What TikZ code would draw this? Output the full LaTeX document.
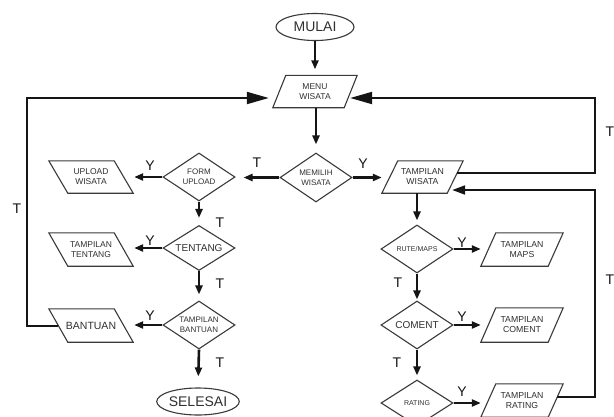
\documentclass[tikz,border=0pt]{standalone}
\usepackage{fontspec}
\setmainfont{Liberation Sans}
\usetikzlibrary{shapes.geometric,arrows.meta,calc}
\newcommand\myfs[2]{\fontsize{#1}{#2}\selectfont}
\definecolor{outc}{HTML}{3A3A3A}
\definecolor{txtc}{HTML}{303030}
\definecolor{linec}{HTML}{151515}
\tikzset{
  outl/.style={draw=outc, line width=1.1pt, line join=miter},
  pbox/.style={rectangle, inner sep=0pt, align=center, text=txtc},
  dia/.style={diamond, draw=outc, line width=1.1pt, aspect=1.5, inner sep=0pt, align=center, text=txtc},
  term/.style={ellipse, draw=outc, line width=1.1pt, inner sep=0pt, text=txtc, font=\myfs{14}{16}},
  lbl/.style={inner sep=0pt, text=linec, font=\myfs{14}{16}},
  arr/.style={draw=linec, line width=2.6pt, -{Triangle[length=9pt,width=7pt]}},
  bus/.style={draw=linec, line width=2pt},
  bigtip/.style={-{Triangle[length=22pt,width=12pt]}},
  midtip/.style={-{Triangle[length=13pt,width=9pt]}}
}
\newcommand\paraR[7][]{\node[pbox,minimum width=#4,minimum height=#5,#1] (#2) at #3 {#7};
  \draw[outl] ([xshift=#6]#2.north west) -- (#2.north east) -- ([xshift=-#6]#2.south east) -- (#2.south west) -- cycle;}
\newcommand\paraL[7][]{\node[pbox,minimum width=#4,minimum height=#5,#1] (#2) at #3 {#7};
  \draw[outl] (#2.north west) -- ([xshift=-#6]#2.north east) -- (#2.south east) -- ([xshift=#6]#2.south west) -- cycle;}
\begin{document}
\begin{tikzpicture}[x=1pt,y=-1pt]
\fill[white] (0,0) rectangle (614,416);
\useasboundingbox (0,0) rectangle (614,416);

% main column
\node[term, minimum width=78pt, minimum height=27pt] (mulai) at (315,27) {MULAI};
\paraR[font=\myfs{8.5}{10.7}]{menu}{(315,91.5)}{84pt}{32pt}{13pt}{MENU\\WISATA}
\node[dia, minimum width=72pt, minimum height=49pt, font=\myfs{8}{10}] (mem) at (316,177.5) {MEMILIH\\WISATA};

% left column
\node[dia, minimum width=72pt, minimum height=48pt, font=\myfs{8}{10}] (form) at (199,177) {FORM\\UPLOAD};
\paraL[font=\myfs{8.5}{10}]{upl}{(91,177)}{84pt}{32pt}{19pt}{UPLOAD\\WISATA}
\node[dia, minimum width=72pt, minimum height=45pt, font=\myfs{10}{12}] (tent) at (199,248) {TENTANG};
\paraL[font=\myfs{8.5}{10}]{ttent}{(91,249.5)}{84pt}{33pt}{19pt}{TAMPILAN\\TENTANG}
\node[dia, minimum width=72pt, minimum height=48pt, font=\myfs{8}{9.5}] (tban) at (199,325) {TAMPILAN\\BANTUAN};
\paraL[font=\myfs{10.5}{12}]{ban}{(91,325.5)}{84pt}{33pt}{19pt}{BANTUAN}
\node[term, minimum width=80pt, minimum height=27pt] (sel) at (198,401.5) {SELESAI};

% right column
\paraR[font=\myfs{8.7}{10}]{tw}{(422.5,177)}{81pt}{32pt}{16pt}{TAMPILAN\\WISATA}
\node[dia, minimum width=72pt, minimum height=48pt, font=\myfs{7}{9}] (rute) at (417,249) {RUTE/MAPS};
\paraR[font=\myfs{8.7}{10}]{maps}{(522,249.5)}{82pt}{33pt}{15pt}{TAMPILAN\\MAPS}
\node[dia, minimum width=72pt, minimum height=48pt, font=\myfs{10}{12}] (com) at (417,325) {COMENT};
\paraR[font=\myfs{8.7}{10}]{tcom}{(522,325)}{82pt}{34pt}{15pt}{TAMPILAN\\COMENT};
\node[dia, minimum width=72pt, minimum height=46pt, font=\myfs{7}{9}] (rat) at (417,403) {RATING};
\paraR[font=\myfs{8.7}{10}]{trat}{(522,400.5)}{82pt}{33pt}{15pt}{TAMPILAN\\RATING}

% bus corner points
\coordinate (lt) at (27,98);
\coordinate (rt) at (595,98);
\coordinate (rb) at (595,190);

% arrows
\draw[arr, shorten >=6pt] (mulai.south) -- (mulai.south |- menu.north);
\draw[arr, shorten >=8pt] (mem.north |- menu.south) -- (mem.north);
\draw[arr, shorten >=8pt] (mem.west) -- (mem.west -| form.east);
\draw[arr, shorten >=1pt] (form.west) -- (upl.east);
\draw[arr] (mem.east) -- (mem.east -| tw.west);
\draw[arr, shorten >=7pt] (form.south) -- (tent.north);
\draw[arr, shorten >=1pt] (tent.west) -- (tent.west -| ttent.east);
\draw[arr, shorten >=6pt] (tent.south) -- (tban.north);
\draw[arr, shorten >=1pt] (tban.west) -- (tban.west -| ban.east);
\draw[arr, shorten >=11pt] (tban.south) -- (sel.north);
\draw[arr, shorten >=4pt] (tw.south -| rute.north) -- (rute.north);
\draw[arr] (rute.east) -- (rute.east -| maps.west);
\draw[arr, shorten >=1pt] (rute.south) -- (com.north);
\draw[arr] (com.east) -- (com.east -| tcom.west);
\draw[arr, shorten >=4pt] (com.south) -- (rat.north);
\draw[arr] (rat.east) -- (rat.east -| trat.west);

% left bus
\draw[bus, bigtip] ($(ban.west)+(9.5,0)$) -| (lt) -- ($(menu.west)+(-4,6.5)$);
\draw[bus] ($(upl.west)+(6.5,-5)$) -- ($(upl.west)+(6.5,-5)$ -| lt);
\draw[bus] ($(ttent.west)+(7,-3.5)$) -- ($(ttent.west)+(7,-3.5)$ -| lt);

% right buses
\draw[bus, bigtip] ($(tw.east)+(-6,-4)$) -| (rt) -- ($(menu.east)+(-7,6.5)$);
\draw[bus, midtip] ($(trat.east)+(-6,-3.5)$) -| (rb) -- ($(tw.east)+(-11,13)$);
\draw[bus] ($(maps.east)+(-8,2.5)$) -- ($(maps.east)+(-8,2.5)$ -| rb);
\draw[bus] ($(tcom.east)+(-7.5,0)$) -- ($(tcom.east)+(-7.5,0)$ -| rb);

% labels
\node[lbl] (l1) at (257,163) {T};
\node[lbl] (l2) at (150,166) {Y};
\node[lbl] (l3) at (220,223) {T};
\node[lbl] (l4) at (150,241) {Y};
\node[lbl] (l5) at (220,284) {T};
\node[lbl] (l6) at (150,316) {Y};
\node[lbl] (l7) at (220,363) {T};
\node[lbl] (l8) at (17,209) {T};
\node[lbl] (l9) at (363,164) {Y};
\node[lbl] (l10) at (462,243) {Y};
\node[lbl] (l11) at (398,283) {T};
\node[lbl] (l12) at (462,317) {Y};
\node[lbl] (l13) at (397,363) {T};
\node[lbl] (l14) at (462,392) {Y};
\node[lbl] (l15) at (610,132) {T};
\node[lbl] (l16) at (610,280) {T};
\end{tikzpicture}
\end{document}
